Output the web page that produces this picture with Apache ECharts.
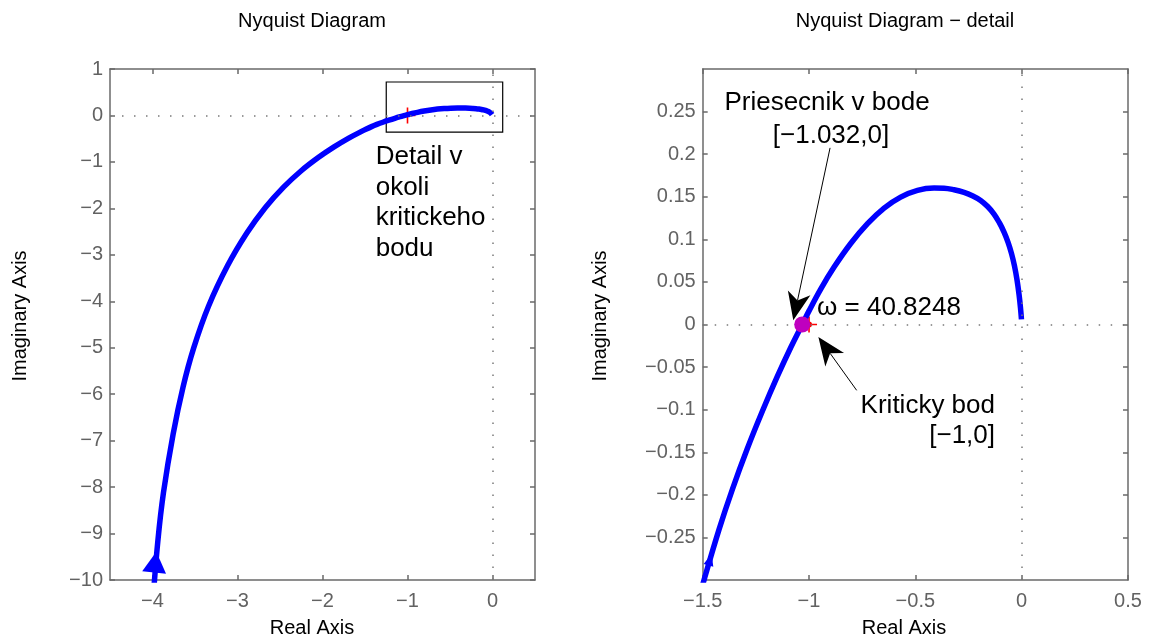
<!DOCTYPE html>
<html lang="en">
<head>
<meta charset="UTF-8">
<title>Nyquist Diagram</title>
<script src="https://cdn.jsdelivr.net/npm/echarts@6/dist/echarts.min.js"></script>
<style>
html, body { margin: 0; padding: 0; background: #fff; }
#main { width: 1155px; height: 637px; }
</style>
</head>
<body>
<div id="main"></div>
<script>
// Nyquist curve (low -> high frequency)
var curveRe = [-3.993, -3.937, -3.871, -3.757, -3.640, -3.516, -3.341, -3.113, -2.890, -2.672,
    -2.458, -2.250, -2.050, -1.864, -1.691, -1.535, -1.490, -1.423, -1.360, -1.290,
    -1.219, -1.149, -1.086, -1.032, -1.000, -0.945, -0.882, -0.804, -0.725, -0.647,
    -0.569, -0.490, -0.412, -0.365, -0.318, -0.271, -0.232, -0.193, -0.160, -0.130,
    -0.105, -0.083, -0.064, -0.048, -0.034, -0.022, -0.012, -0.005, -0.001];
var curveIm = [-10.41, -9.16, -8.12, -6.857, -5.842, -5.009, -4.107, -3.221, -2.530, -1.981,
    -1.543, -1.190, -0.906, -0.677, -0.488, -0.338, -0.2968, -0.2405, -0.1932, -0.1456,
    -0.1016, -0.061, -0.027, 0, 0.016, 0.0416, 0.0674, 0.0951, 0.1184, 0.1367,
    0.1496, 0.1575, 0.1602, 0.1600, 0.1582, 0.1552, 0.1512, 0.1457, 0.1385, 0.1297,
    0.1196, 0.1085, 0.0965, 0.0835, 0.0690, 0.0525, 0.0345, 0.018, 0.006];

var criticalPoint = [-1, 0];
var crossPoint = [-1.032, 0];
var arrowLeft = [-3.968, -9.614];
var arrowRight = [-1.4655, -0.276];
var detailBox = [[-1.25, 0.72], [0.12, -0.36]];

// annotation arrows in the detail plot: [tail, tip]
var annCross = [[-0.901, 0.2074], [-1.074, 0.005]];
var annCrit = [[-0.776, -0.0773], [-0.956, -0.0146]];

// tick values
var xTicksL = [-4, -3, -2, -1, 0];
var yTicksL = [1, 0, -1, -2, -3, -4, -5, -6, -7, -8, -9, -10];
var xTicksR = [-1.5, -1, -0.5, 0, 0.5];
var yTicksR = [-0.25, -0.2, -0.15, -0.1, -0.05, 0, 0.05, 0.1, 0.15, 0.2, 0.25];

var FONT = '"Liberation Sans", Arial, Helvetica, sans-serif';
var AXIS_GRAY = '#6a6a6a';
var LABEL_GRAY = '#626262';

var curve = curveRe.map(function (x, i) { return [x, curveIm[i]]; });

function fmt(v) {
    var s = String(Math.abs(+(+v).toFixed(3)));
    return (v < 0 ? '\u2212' : '') + s;
}

function axis(type, gi, pos, min, max, ticks, labels) {
    return {
        type: 'value', gridIndex: gi, position: pos, min: min, max: max,
        axisLine: { show: true, onZero: false, lineStyle: { color: AXIS_GRAY, width: 1.5 } },
        axisTick: { show: true, inside: true, length: 5, customValues: ticks,
            lineStyle: { color: AXIS_GRAY, width: 1.5 } },
        axisLabel: { show: labels, customValues: ticks, formatter: fmt,
            color: LABEL_GRAY, fontSize: 20, fontFamily: FONT, margin: type === 'x' ? 11 : 7 },
        splitLine: { show: false }
    };
}

var zeroLines = {
    silent: true, symbol: 'none', label: { show: false },
    lineStyle: { color: '#7a7a7a', type: [1.5, 10.5], width: 1.5 },
    data: [{ xAxis: 0 }, { yAxis: 0 }]
};

var plusPath = 'path://M-1,-10L1,-10L1,10L-1,10ZM-10,-1L10,-1L10,1L-10,1Z';

function dot(xi, yi, pt, symbol, size, color, z, rot) {
    return {
        type: 'scatter', xAxisIndex: xi, yAxisIndex: yi, z: z,
        data: [pt], symbol: symbol, symbolSize: size, symbolRotate: rot || 0,
        itemStyle: { color: color, opacity: 1 }, silent: true
    };
}

var option = {
    animation: false,
    backgroundColor: '#fff',
    grid: [
        { left: 110, top: 69, width: 425, height: 511 },
        { left: 702.7, top: 69, width: 425.3, height: 511 }
    ],
    xAxis: [
        axis('x', 0, 'bottom', -4.5, 0.5, xTicksL, true),
        axis('x', 0, 'top', -4.5, 0.5, xTicksL, false),
        axis('x', 1, 'bottom', -1.5, 0.5, xTicksR, true),
        axis('x', 1, 'top', -1.5, 0.5, xTicksR, false)
    ],
    yAxis: [
        axis('y', 0, 'left', -10, 1, yTicksL, true),
        axis('y', 0, 'right', -10, 1, yTicksL, false),
        axis('y', 1, 'left', -0.3, 0.3, yTicksR, true),
        axis('y', 1, 'right', -0.3, 0.3, yTicksR, false)
    ],
    series: [
        // ---- left: full diagram
        dot(0, 0, criticalPoint, plusPath, 16, '#ff0000', 2),
        {
            type: 'line', xAxisIndex: 0, yAxisIndex: 0, z: 3,
            data: curve, showSymbol: false, smooth: 0.4,
            lineStyle: { color: '#0000ff', width: 5.5 },
            markLine: zeroLines,
            markArea: {
                silent: true,
                itemStyle: { color: 'rgba(0,0,0,0)', borderColor: '#000', borderWidth: 1.2 },
                data: [[{ coord: detailBox[0] }, { coord: detailBox[1] }]]
            }
        },
        dot(0, 0, arrowLeft, 'triangle', [24, 21], '#0000ff', 4, -6),
        // ---- right: detail
        dot(2, 2, criticalPoint, plusPath, 16, '#ff0000', 2),
        dot(2, 2, criticalPoint, 'circle', 6, '#ff0000', 2),
        {
            type: 'line', xAxisIndex: 2, yAxisIndex: 2, z: 3,
            data: curve, showSymbol: false, smooth: 0.4,
            lineStyle: { color: '#0000ff', width: 5.5 },
            markLine: zeroLines
        },
        dot(2, 2, arrowRight, 'triangle', [10, 12], '#0000ff', 4, -15),
        dot(2, 2, crossPoint, 'circle', 16, '#bf00bf', 5)
    ]
};

var chart = echarts.init(document.getElementById('main'));
chart.setOption(option);

function txt(s, x, y, size, align, color) {
    return {
        type: 'text', z: 100, x: x, y: y,
        style: {
            text: s, fill: color || '#000', font: size + 'px ' + FONT,
            align: align, verticalAlign: 'middle',
            textAlign: align, textVerticalAlign: 'middle'
        }
    };
}

function toPx(p) {
    return chart.convertToPixel({ xAxisIndex: 2, yAxisIndex: 2 }, p);
}

function arrow(pair) {
    var a = toPx(pair[0]), b = toPx(pair[1]);
    var dx = b[0] - a[0], dy = b[1] - a[1];
    var len = Math.sqrt(dx * dx + dy * dy);
    var ux = dx / len, uy = dy / len, nx = -uy, ny = ux;
    var L = 28, W = 11.5;
    var back = [b[0] - L * ux, b[1] - L * uy];
    var notch = [b[0] - 0.72 * L * ux, b[1] - 0.72 * L * uy];
    return [
        { type: 'line', z: 100, shape: { x1: a[0], y1: a[1], x2: notch[0], y2: notch[1] },
          style: { stroke: '#000', lineWidth: 1 } },
        { type: 'polygon', z: 100,
          shape: { points: [b, [back[0] + W * nx, back[1] + W * ny], notch,
                            [back[0] - W * nx, back[1] - W * ny]] },
          style: { fill: '#000' } }
    ];
}

var g = [
    txt('Nyquist Diagram', 312, 21, 20, 'center'),
    txt('Nyquist Diagram \u2212 detail', 905, 21, 20, 'center'),
    txt('Real Axis', 312, 628, 20, 'center'),
    txt('Real Axis', 904, 628, 20, 'center'),
    txt('Detail v', 375.7, 157, 26, 'left'),
    txt('okoli', 375.7, 187.5, 26, 'left'),
    txt('kritickeho', 375.7, 218, 26, 'left'),
    txt('bodu', 375.7, 248.5, 26, 'left'),
    txt('Priesecnik v bode', 827, 103, 26, 'center'),
    txt('[\u22121.032,0]', 831, 136, 26, 'center'),
    txt('\u03c9 = 40.8248', 817, 308, 26, 'left'),
    txt('Kriticky bod', 995, 406, 26, 'right'),
    txt('[\u22121,0]', 995, 436, 26, 'right')
];
var yl = txt('Imaginary Axis', 20, 316, 20, 'center');
yl.rotation = Math.PI / 2;
var yr = txt('Imaginary Axis', 600, 316, 20, 'center');
yr.rotation = Math.PI / 2;
g.push(yl, yr);
g = g.concat(arrow(annCross), arrow(annCrit));

chart.setOption({ graphic: g });
</script>
</body>
</html>
